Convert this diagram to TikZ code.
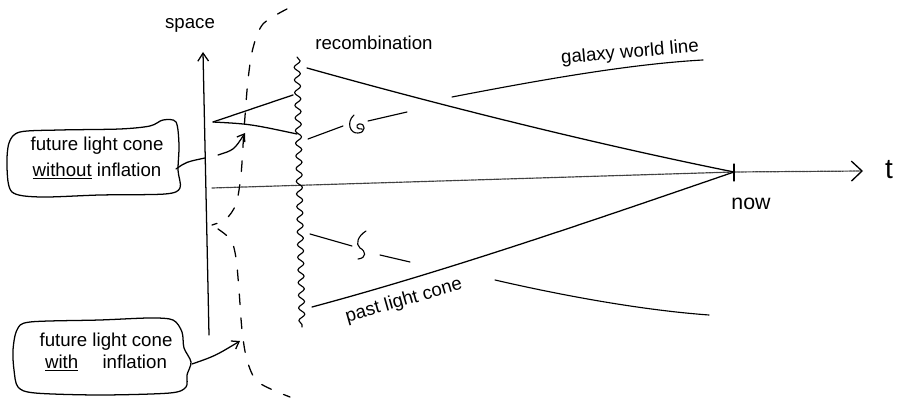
\documentclass[tikz,border=0pt]{standalone}
\usepackage{fontspec}
\setmainfont{Liberation Sans}
\usetikzlibrary{arrows.meta,decorations.pathmorphing}
\begin{document}
\begin{tikzpicture}[x=0.75pt,y=-0.75pt,line width=0.95pt,line cap=round,line join=round,
  lbl/.style={font=\fontsize{14}{17}\selectfont,inner sep=0pt},
  bubbletext/.style={font=\fontsize{14}{19}\selectfont,inner sep=0pt,align=center},
  barb/.style={-{Straight Barb[length=5pt,width=7pt]}},
  axisarrow/.style={-{Straight Barb[length=6pt,width=8pt]}},
  taxis/.style={black!75,line width=0.9pt,dash pattern=on 2pt off 0.7pt,
    -{Straight Barb[length=8pt,width=15pt,line width=1pt,black]}},
  lightcone/.style={dash pattern=on 8pt off 10pt},
  wave/.style={decorate,decoration={snake,segment length=9.5pt,amplitude=2.3pt},line width=0.85pt},
  wline/.style={line width=0.85pt}
]
\useasboundingbox (0,0) rectangle (906,398);

% ---- labels ----
\node[lbl] (space) at (190,25) {space};
\node[lbl] (recomb) at (374,43) {recombination};
\node[lbl,rotate=5] (gwl) at (630,53) {galaxy world line};
\node[lbl,rotate=16] (plc) at (404,301) {past light cone};
\node[lbl,font=\fontsize{16}{18}\selectfont] (now) at (751,204) {now};
\node[lbl,font=\fontsize{21}{23}\selectfont] (tlabel) at (889,170) {t};

% ---- key points ----
\coordinate (sb) at (209,335);
\coordinate (st) at (203,52);
\coordinate (t0) at (212,188);
\coordinate (nowpt) at (734,172);
\coordinate (tend) at (863,171);
\coordinate (nowtop) at (734,164);
\coordinate (nowbot) at (734,181);
\coordinate (rtop) at (297,57);
\coordinate (rbot) at (302,327);
\coordinate (pu) at (307,68);
\coordinate (pl) at (312,307);
\coordinate (fv) at (213,122);
\coordinate (fu) at (293,95);
\coordinate (fl) at (297,134);

% ---- axes ----
\draw[axisarrow] (sb) -- (st);
\draw[taxis] (t0) -- (nowpt) -- (tend);
\draw (nowtop) -- (nowbot);

% ---- recombination surface ----
\draw[wave] (rtop) -- (rbot);

% ---- past light cone ----
\draw (pu) .. controls (450,108) and (600,145) .. (nowpt);
\draw (pl) .. controls (450,270) and (600,218) .. (nowpt);

% ---- future light cone without inflation ----
\draw (fv) -- (fu);
\draw (fv) .. controls (250,124) .. (fl);

% ---- future light cone with inflation (dashed) ----
\draw[lightcone] plot[smooth] coordinates {(287,9) (263,24) (253,48) (248,80) (244,130) (241,175) (236,204) (226,219) (212,225)};
\draw[lightcone] plot[smooth] coordinates {(218,229) (231,240) (236,258) (239,290) (242,330) (247,360) (258,382) (290,397)};

% ---- galaxy world lines ----
\draw[wline] (308,139) -- (343,126);
\draw[wline] (354,115) .. controls (346,122) and (350,134) .. (358,133)
   .. controls (366,133) and (366,123) .. (359,124)
   .. controls (355,125) and (357,130) .. (362,129);
\draw[wline] (368,121) -- (407,112);
\draw[wline] (452,97) .. controls (540,80) and (630,64) .. (703,60);

\draw[wline] (310,234) -- (352,246);
\draw[wline] (366,231) .. controls (358,236) and (355,244) .. (360,248)
   .. controls (366,251) and (367,258) .. (358,259);
\draw[wline] (380,255) -- (410,262);
\draw[wline] (495,280) .. controls (560,295) and (640,310) .. (709,315);

% ---- callout 1: without inflation ----
\node[bubbletext] (b1) at (97,158) {future light cone\\\underline{without} inflation};
\draw plot[smooth cycle] coordinates {(7,168) (9,143) (20,132) (60,130) (120,129) (150,126) (163,120) (176,122) (179,145) (178,170) (180,188) (165,194) (100,195) (40,197) (12,192)};
\coordinate (b1tail) at (176,169);
\coordinate (b1axis) at (205,158);
\coordinate (a1s) at (218,155);
\coordinate (a1e) at (245,133);
\draw (b1tail) .. controls (186,162) .. (b1axis);
\draw[barb] (a1s) .. controls (234,150) .. (a1e);

% ---- callout 2: with inflation ----
\node[bubbletext,font=\fontsize{14}{17}\selectfont] (b2) at (106,352) {future light cone\\\underline{with}\hspace{1.3em}inflation};
\draw plot[smooth cycle] coordinates {(13,350) (17,330) (30,322) (100,320) (150,318) (173,320) (182,332) (184,348) (191,362) (187,375) (186,387) (170,393) (100,395) (35,393) (18,387) (14,370)};
\coordinate (a2s) at (192,364);
\coordinate (a2e) at (240,341);
\draw[barb] (a2s) .. controls (215,356) .. (a2e);

\end{tikzpicture}
\end{document}
